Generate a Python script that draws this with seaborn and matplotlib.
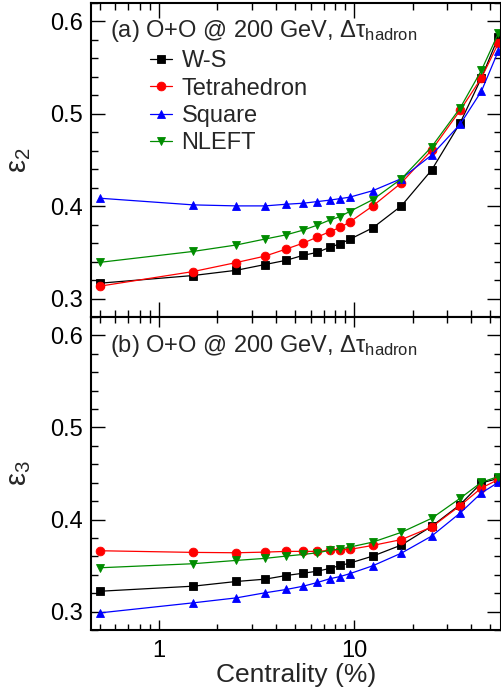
import numpy as np
import pandas as pd
import matplotlib
matplotlib.use("Agg")
import matplotlib.pyplot as plt
from matplotlib.ticker import MultipleLocator, LogLocator, FixedLocator, NullFormatter, FixedFormatter
import seaborn as sns

# Centrality bin centres (%)
centrality = [0.5, 1.5, 2.5, 3.5, 4.5, 5.5, 6.5, 7.5, 8.5, 9.5, 12.5, 17.5, 25, 35, 45, 55]

# Eccentricity epsilon_2 for each nuclear structure model
eps2_ws = [0.3166, 0.3249, 0.3306, 0.3368, 0.3414, 0.3468, 0.3500, 0.3554, 0.3594, 0.3640,
           0.3766, 0.4003, 0.4391, 0.4901, 0.5390, 0.5835]
eps2_tetra = [0.3134, 0.3292, 0.3390, 0.3459, 0.3536, 0.3600, 0.3666, 0.3723, 0.3770, 0.3827,
              0.4003, 0.4252, 0.4607, 0.5038, 0.5390, 0.5767]
eps2_square = [0.4086, 0.4014, 0.4003, 0.4003, 0.4021, 0.4032, 0.4050, 0.4065, 0.4082, 0.4097,
               0.4168, 0.4298, 0.4553, 0.4887, 0.5246, 0.5684]
eps2_nleft = [0.3392, 0.3510, 0.3580, 0.3644, 0.3690, 0.3741, 0.3795, 0.3849, 0.3888, 0.3942,
              0.4071, 0.4296, 0.4642, 0.5063, 0.5472, 0.5875]

# Eccentricity epsilon_3
eps3_ws = [0.3221, 0.3276, 0.3327, 0.3352, 0.3392, 0.3417, 0.3439, 0.3468, 0.3501, 0.3526,
           0.3603, 0.3723, 0.3926, 0.4162, 0.4398, 0.4446]
eps3_tetra = [0.3661, 0.3643, 0.3639, 0.3646, 0.3654, 0.3654, 0.3654, 0.3665, 0.3672, 0.3675,
              0.3719, 0.3782, 0.3918, 0.4151, 0.4343, 0.4435]
eps3_square = [0.2986, 0.3095, 0.3149, 0.3204, 0.3240, 0.3276, 0.3316, 0.3356, 0.3381, 0.3411,
               0.3498, 0.3635, 0.3820, 0.4071, 0.4289, 0.4405]
eps3_nleft = [0.3476, 0.3520, 0.3556, 0.3578, 0.3603, 0.3621, 0.3639, 0.3665, 0.3679, 0.3700,
              0.3755, 0.3861, 0.4013, 0.4231, 0.4405, 0.4467]

models = ["W-S", "Tetrahedron", "Square", "NLEFT"]
x_ticks = [1, 10]
x_tick_labels = ["1", "10"]
y_ticks = [0.3, 0.4, 0.5, 0.6]
y_tick_labels = ["0.3", "0.4", "0.5", "0.6"]

palette = {"W-S": "black", "Tetrahedron": "#ff0000", "Square": "#0000ff", "NLEFT": "#008c00"}
markers = {"W-S": "s", "Tetrahedron": "o", "Square": "^", "NLEFT": "v"}

sns.set_style("ticks")
plt.rcParams["font.family"] = ["Liberation Sans", "DejaVu Sans"]
plt.rcParams["mathtext.fontset"] = "custom"
plt.rcParams["mathtext.rm"] = "Liberation Sans"
plt.rcParams["mathtext.it"] = "Liberation Sans:italic"
plt.rcParams["mathtext.bf"] = "Liberation Sans:bold"


def long_frame(series):
    rows = []
    for name, vals in zip(models, series):
        for c, v in zip(centrality, vals):
            rows.append({"cent": c, "eps": v, "model": name})
    return pd.DataFrame(rows)


df2 = long_frame([eps2_ws, eps2_tetra, eps2_square, eps2_nleft])
df3 = long_frame([eps3_ws, eps3_tetra, eps3_square, eps3_nleft])

fig = plt.figure(figsize=(5.01, 6.92), dpi=100)
W, H = 501.0, 692.0
left, right = 91.0, 501.5
ax1 = fig.add_axes([left / W, (H - 317) / H, (right - left) / W, 314 / H])
ax2 = fig.add_axes([left / W, (H - 630) / H, (right - left) / W, 313 / H])

FS = 17

for ax, df in ((ax1, df2), (ax2, df3)):
    sns.lineplot(data=df, x="cent", y="eps", hue="model", style="model",
                 hue_order=models, style_order=models, palette=palette,
                 markers=markers, dashes=False, errorbar=None, sort=True,
                 linewidth=0.9, markersize=6.3, markeredgewidth=0.6,
                 markeredgecolor=None, ax=ax, legend=(ax is ax1))
    for line in ax.get_lines():
        line.set_markeredgecolor(line.get_color())
    ax.set_xscale("log")
    ax.set_xlim(0.45, 57)
    ax.set_ylim(0.28, 0.62)
    ax.xaxis.set_major_locator(FixedLocator(x_ticks))
    ax.xaxis.set_major_formatter(FixedFormatter(x_tick_labels))
    ax.xaxis.set_minor_locator(LogLocator(base=10, subs=np.arange(2, 10)))
    ax.xaxis.set_minor_formatter(NullFormatter())
    ax.yaxis.set_major_locator(FixedLocator(y_ticks))
    ax.yaxis.set_major_formatter(FixedFormatter(y_tick_labels))
    ax.yaxis.set_minor_locator(MultipleLocator(0.02))
    ax.tick_params(which="both", direction="in", top=True, right=True,
                   width=1.0, colors="black", labelsize=FS, pad=6)
    ax.tick_params(axis="y", which="major", length=10)
    ax.tick_params(axis="y", which="minor", length=5)
    for s in ax.spines.values():
        s.set_linewidth(1.5)
        s.set_color("black")
    ax.set_xlabel("")

ax1.tick_params(axis="x", which="major", length=11)
ax1.tick_params(axis="x", which="minor", length=5)
ax2.tick_params(axis="x", which="major", length=7)
ax2.tick_params(axis="x", which="minor", length=4)
ax2.tick_params(axis="x", pad=7)
ax1.tick_params(axis="x", labelbottom=False)

ax1.set_ylabel(r"$\mathrm{\varepsilon_{2}}$", fontsize=21, labelpad=12)
ax2.set_ylabel(r"$\mathrm{\varepsilon_{3}}$", fontsize=21, labelpad=12)
ax2.set_xlabel("Centrality (%)", fontsize=19, labelpad=1)

ax1.text(0.047, 0.893, r"(a) O+O @ 200 GeV, $\mathrm{\Delta\tau_{hadron}}$",
         transform=ax1.transAxes, fontsize=FS, va="baseline", ha="left")
ax2.text(0.047, 0.889, r"(b) O+O @ 200 GeV, $\mathrm{\Delta\tau_{hadron}}$",
         transform=ax2.transAxes, fontsize=FS, va="baseline", ha="left")

handles, labels = ax1.get_legend_handles_labels()
ax1.legend(handles, labels, loc="upper left", bbox_to_anchor=(0.143, 0.85),
           frameon=False, fontsize=FS, handlelength=0.95, handletextpad=0.4,
           labelspacing=0.23, borderpad=0, borderaxespad=0)

fig.savefig("out.png", dpi=100)
